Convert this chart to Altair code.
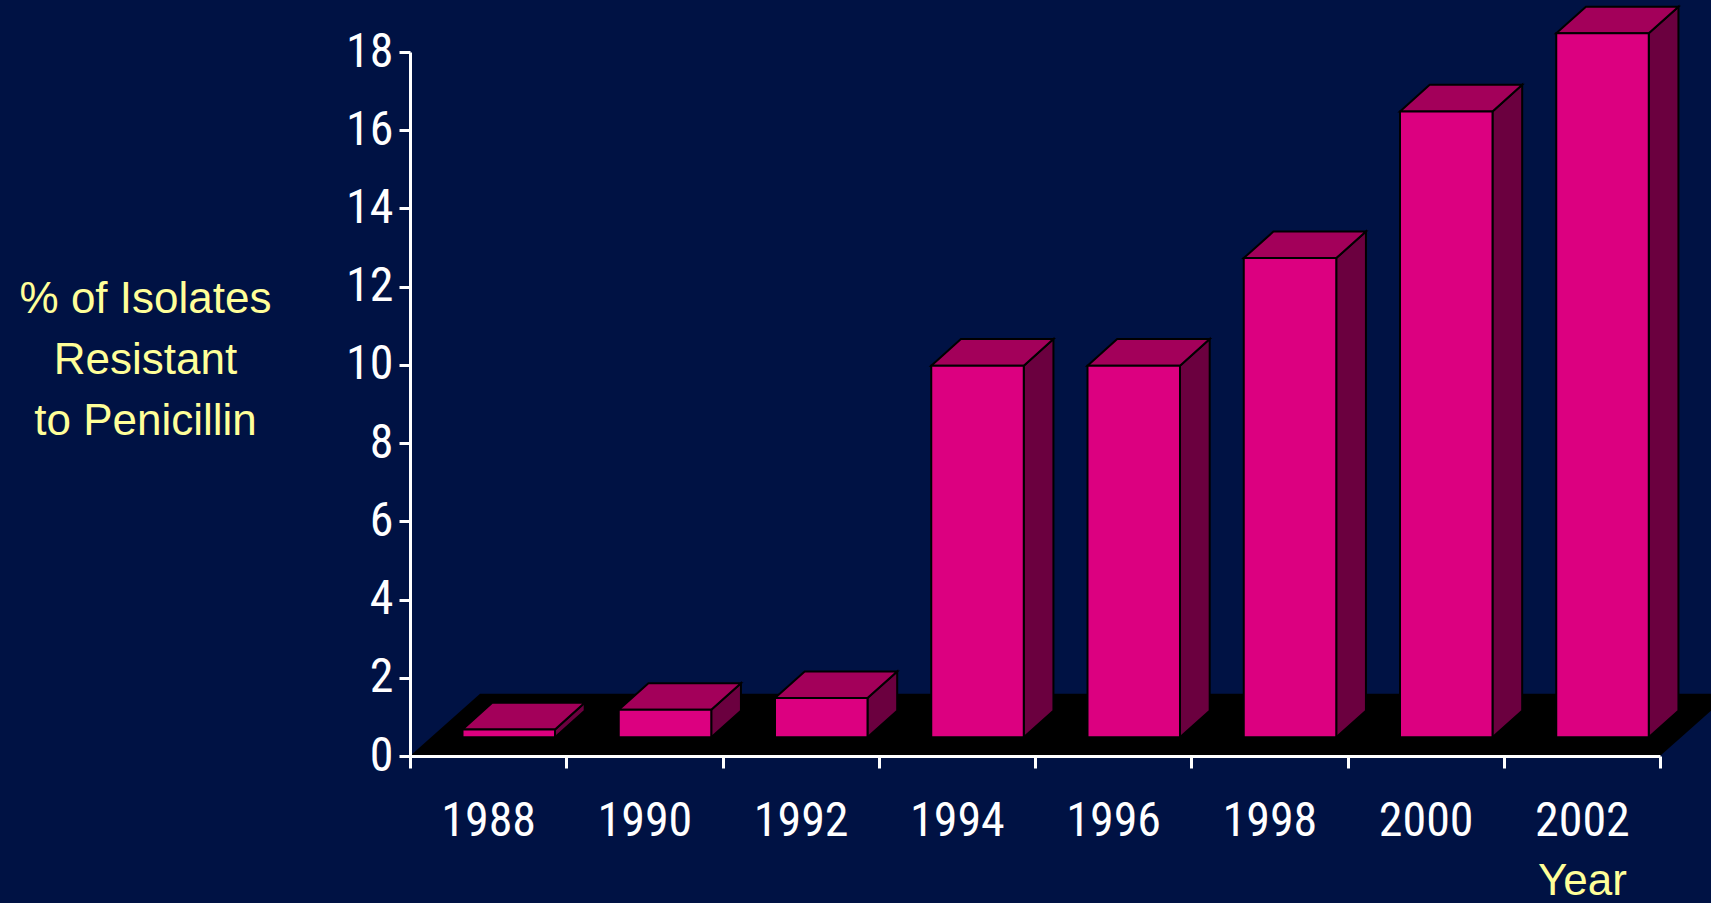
import altair as alt
import pandas as pd

# ---- data ----
years = ["1988", "1990", "1992", "1994", "1996", "1998", "2000", "2002"]
values = [0.2, 0.7, 1.0, 9.5, 9.5, 12.25, 16.0, 18.0]
y_ticks = [0, 2, 4, 6, 8, 10, 12, 14, 16, 18]
y_title = ["% of Isolates", "Resistant", "\u00a0to Penicillin"]
x_title = "Year"

# ---- 3-D look (style constants, in scale units) ----
BASE = 0.48        # bars stand this far up the floor (front edge)
DX, DY = 0.19, 0.68  # depth offset of the bar boxes
X0, X1 = 0.336, 0.928  # front face within a category slot
FLOOR_DX, FLOOR_DY = 0.448, 1.59

BG = "#001244"
FRONT = "#DC0080"
TOP = "#A3005A"
SIDE = "#6B003F"
YELLOW = "#FFFF99"

n = len(years)
front = pd.DataFrame({
    "year": years,
    "xa": [i + X0 for i in range(n)],
    "xb": [i + X1 for i in range(n)],
    "ya": [BASE] * n,
    "yb": [BASE + v for v in values],
})

top_rows, side_rows = [], []
for i, (yr, v) in enumerate(zip(years, values)):
    top_rows.append({"year": yr, "yy": BASE + v, "xa": i + X0, "xb": i + X1})
    top_rows.append({"year": yr, "yy": BASE + v + DY, "xa": i + X0 + DX, "xb": i + X1 + DX})
    side_rows.append({"year": yr, "xx": i + X1, "ya": BASE, "yb": BASE + v})
    side_rows.append({"year": yr, "xx": i + X1 + DX, "ya": BASE + DY, "yb": BASE + v + DY})
top = pd.DataFrame(top_rows)
side = pd.DataFrame(side_rows)
floor = pd.DataFrame({
    "k": ["f", "f"],
    "yy": [0, FLOOR_DY],
    "xa": [0, FLOOR_DX],
    "xb": [n, n + FLOOR_DX],
})

NARROW = ("'Liberation Sans Narrow', 'Arial Narrow', 'Nimbus Sans Narrow', "
          "'Noto Sans Condensed', 'Roboto Condensed', 'Open Sans Condensed', "
          "'DejaVu Sans Condensed', sans-serif")
ARIAL = "'Liberation Sans', Arial, sans-serif"

label_arr = "[" + ",".join("'%s'" % y for y in years) + "]"
xscale = alt.Scale(domain=[0, n], nice=False, zero=False)
yscale = alt.Scale(domain=[0, 18], nice=False, zero=False)

xaxis = alt.Axis(
    values=list(range(n + 1)),
    labelExpr="datum.value < %d ? %s[datum.value] : ''" % (n, label_arr),
    labelOffset=1250 / n / 2,
    labelAlign="center",
    labelBaseline="alphabetic",
    labelPadding=67,
    labelFont=NARROW, labelFontSize=48, labelColor="white",
    labelOverlap=False, labelFlush=False, labelBound=False,
    tickSize=12, tickWidth=3, tickColor="white",
    domainWidth=3, domainColor="white",
    grid=False, zindex=1,
    title=x_title, titleFont=ARIAL, titleFontSize=44, titleFontWeight="normal",
    titleColor=YELLOW, titleX=1172, titleY=138, titleAlign="center",
    titleBaseline="alphabetic",
)
yaxis = alt.Axis(
    values=y_ticks,
    labelFont=NARROW, labelFontSize=48, labelColor="white",
    labelPadding=6, labelBaseline="middle",
    labelOverlap=False, labelFlush=False, labelBound=False,
    tickSize=11, tickWidth=3, tickColor="white",
    domainWidth=3, domainColor="white",
    grid=False, zindex=1,
    title=y_title, titleFont=ARIAL, titleFontSize=44, titleFontWeight="normal",
    titleColor=YELLOW, titleAngle=0, titleAlign="center", titleBaseline="alphabetic",
    titleX=-265, titleY=260, titleLineHeight=61,
)

floor_layer = alt.Chart(floor).mark_area(orient="horizontal", color="black").encode(
    y=alt.Y("yy:Q", scale=yscale, axis=yaxis, stack=None),
    x=alt.X("xa:Q", scale=xscale, axis=xaxis, stack=None),
    x2="xb:Q",
    detail="k:N",
)

front_layer = alt.Chart(front).mark_rect(
    color=FRONT, stroke="black", strokeWidth=2
).encode(
    x=alt.X("xa:Q", scale=xscale, axis=xaxis),
    x2="xb:Q",
    y=alt.Y("ya:Q", scale=yscale, axis=yaxis),
    y2="yb:Q",
)

top_layer = alt.Chart(top).mark_area(
    orient="horizontal", color=TOP, stroke="black", strokeWidth=2, strokeJoin="miter"
).encode(
    y=alt.Y("yy:Q", scale=yscale, axis=yaxis, stack=None),
    x=alt.X("xa:Q", scale=xscale, axis=xaxis, stack=None),
    x2="xb:Q",
    detail="year:N",
)

side_layer = alt.Chart(side).mark_area(
    orient="vertical", color=SIDE, stroke="black", strokeWidth=2, strokeJoin="miter"
).encode(
    x=alt.X("xx:Q", scale=xscale, axis=xaxis, stack=None),
    y=alt.Y("ya:Q", scale=yscale, axis=yaxis, stack=None),
    y2="yb:Q",
    detail="year:N",
)

chart = alt.layer(floor_layer, side_layer, top_layer, front_layer).properties(
    width=1250, height=704,
    autosize=alt.AutoSizeParams(type="none"),
    padding={"left": 410, "top": 52, "right": 51, "bottom": 147},
    background=BG,
).configure_view(stroke=None)

chart.save("out.html", embed_options={"renderer": "svg", "actions": False})
